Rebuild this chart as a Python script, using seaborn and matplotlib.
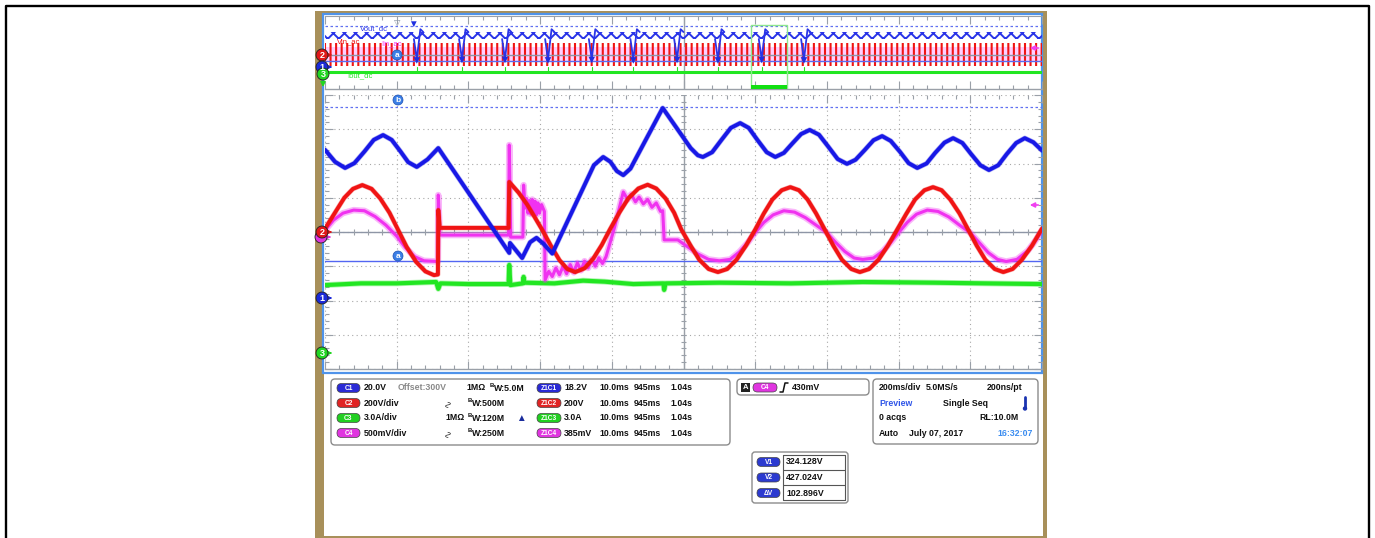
import matplotlib.pyplot as plt
import matplotlib.patches as mpatches
import numpy as np
import pandas as pd
import seaborn as sns

sns.set_style('white')
plt.rcParams['font.family'] = ['Liberation Sans', 'DejaVu Sans']

W, H = 1375, 538

# zoom window traces, (x, y) in graticule divisions (x 0..10, y -4..4)
c1_vout = [(0.00, 2.40), (0.14, 2.05), (0.28, 1.87), (0.41, 2.01), (0.55, 2.35), (0.68, 2.69),
           (0.81, 2.83), (0.93, 2.69), (1.05, 2.36), (1.16, 2.04), (1.28, 1.90), (1.43, 2.12),
           (1.58, 2.45), (2.57, -0.61), (2.58, -0.32), (2.75, -0.76), (2.86, -0.30), (2.95, -0.17),
           (3.05, -0.35), (3.17, -0.63), (3.75, 1.95), (3.88, 2.19), (3.98, 2.05), (4.07, 1.78),
           (4.16, 1.66), (4.26, 1.85), (4.71, 3.62), (5.10, 2.45), (5.20, 2.24), (5.27, 2.19),
           (5.40, 2.33), (5.53, 2.69), (5.66, 3.04), (5.79, 3.18), (5.91, 3.04), (6.03, 2.69),
           (6.16, 2.33), (6.28, 2.19), (6.40, 2.31), (6.52, 2.59), (6.64, 2.86), (6.76, 2.98),
           (6.89, 2.84), (7.02, 2.49), (7.15, 2.13), (7.28, 1.99), (7.40, 2.11), (7.53, 2.40),
           (7.65, 2.68), (7.77, 2.80), (7.89, 2.66), (8.02, 2.34), (8.14, 2.01), (8.26, 1.87),
           (8.39, 2.00), (8.51, 2.31), (8.64, 2.61), (8.76, 2.74), (8.89, 2.60), (9.01, 2.28),
           (9.14, 1.95), (9.26, 1.81), (9.39, 1.95), (9.51, 2.28), (9.64, 2.60), (9.76, 2.74),
           (9.88, 2.62), (10.0, 2.38)]

c2_vin = [(0.00, 0.10), (0.15, 0.60), (0.27, 1.00), (0.39, 1.26), (0.52, 1.37), (0.65, 1.26),
          (0.77, 0.98), (0.90, 0.56), (1.02, 0.06), (1.14, -0.44), (1.27, -0.87), (1.40, -1.15),
          (1.52, -1.26), (1.575, -1.24), (1.58, 0.64), (1.60, 0.12), (2.56, 0.12), (2.57, 1.46),
          (2.70, 1.15), (2.82, 0.80), (2.92, 0.45), (3.03, 0.06), (3.15, -0.40), (3.27, -0.82),
          (3.38, -1.08), (3.49, -1.17), (3.62, -1.06), (3.74, -0.78), (3.86, -0.38), (3.97, 0.06),
          (4.10, 0.55), (4.23, 0.98), (4.37, 1.27), (4.50, 1.38), (4.62, 1.27), (4.75, 0.98),
          (4.87, 0.56), (4.97, 0.07), (5.10, -0.40), (5.22, -0.81), (5.35, -1.08), (5.48, -1.17),
          (5.61, -1.08), (5.74, -0.81), (5.87, -0.40), (6.00, 0.07), (6.12, 0.54), (6.24, 0.95),
          (6.37, 1.22), (6.49, 1.31), (6.61, 1.22), (6.73, 0.95), (6.85, 0.54), (6.97, 0.07),
          (7.09, -0.40), (7.21, -0.81), (7.34, -1.08), (7.46, -1.17), (7.59, -1.08), (7.72, -0.81),
          (7.85, -0.40), (7.98, 0.07), (8.11, 0.54), (8.23, 0.95), (8.36, 1.22), (8.48, 1.31),
          (8.60, 1.22), (8.72, 0.95), (8.85, 0.54), (8.97, 0.07), (9.09, -0.40), (9.21, -0.81),
          (9.34, -1.08), (9.46, -1.17), (9.59, -1.08), (9.72, -0.81), (9.86, -0.40), (10.0, 0.10)]

c3_iout = [(0.00, -1.55), (0.50, -1.50), (1.00, -1.50), (1.55, -1.46), (1.58, -1.66), (1.61, -1.50),
           (2.00, -1.52), (2.56, -1.52), (2.57, -0.96), (2.585, -1.55), (2.76, -1.50), (2.77, -1.31),
           (2.78, -1.48), (3.20, -1.50), (3.60, -1.42), (3.90, -1.45), (4.30, -1.52), (4.72, -1.50),
           (4.73, -1.69), (4.75, -1.50), (5.50, -1.48), (6.50, -1.50), (7.50, -1.46), (8.50, -1.48),
           (9.20, -1.50), (10.0, -1.52)]

c4_iin = [(0.00, 0.05), (0.12, 0.35), (0.25, 0.55), (0.40, 0.64), (0.55, 0.62), (0.70, 0.45),
          (0.85, 0.20), (1.00, -0.12), (1.12, -0.45), (1.25, -0.72), (1.38, -0.84), (1.575, -0.86),
          (1.58, 1.08), (1.60, -0.09), (2.56, -0.09), (2.57, 2.54), (2.59, -0.15), (2.76, -0.15),
          (2.77, 1.37), (2.79, 0.70), (2.81, 0.98), (2.83, 0.55), (2.85, 0.92), (2.87, 0.52),
          (2.89, 0.95), (2.91, 0.55), (2.93, 0.90), (2.95, 0.50), (2.97, 0.85), (2.99, 0.55),
          (3.02, 0.80), (3.06, 0.60), (3.07, -1.40), (3.12, -1.15), (3.17, -1.30), (3.22, -1.05),
          (3.27, -1.25), (3.32, -1.00), (3.37, -1.22), (3.42, -0.95), (3.47, -1.18), (3.52, -0.90),
          (3.57, -1.12), (3.62, -0.85), (3.67, -1.05), (3.72, -0.80), (3.77, -1.00), (3.82, -0.75),
          (3.87, -0.92), (3.92, -0.72), (4.04, 0.15), (4.16, 1.17), (4.22, 0.95), (4.27, 1.10),
          (4.33, 0.88), (4.38, 1.02), (4.44, 0.82), (4.50, 0.95), (4.56, 0.72), (4.62, 0.85),
          (4.68, 0.60), (4.71, 0.62), (4.73, -0.23), (4.92, -0.23), (5.05, -0.42), (5.20, -0.64),
          (5.35, -0.80), (5.50, -0.84), (5.65, -0.80), (5.78, -0.58), (5.90, -0.30), (6.00, -0.02),
          (6.12, 0.28), (6.25, 0.50), (6.40, 0.62), (6.55, 0.58), (6.70, 0.42), (6.85, 0.20),
          (7.00, -0.02), (7.12, -0.30), (7.25, -0.57), (7.38, -0.76), (7.50, -0.80), (7.65, -0.76),
          (7.78, -0.56), (7.90, -0.28), (8.00, -0.02), (8.12, 0.28), (8.25, 0.52), (8.40, 0.64),
          (8.55, 0.60), (8.70, 0.44), (8.85, 0.20), (9.00, -0.02), (9.12, -0.30), (9.25, -0.60),
          (9.38, -0.80), (9.50, -0.86), (9.65, -0.80), (9.80, -0.55), (9.92, -0.22), (10.0, 0.05)]

cursor_a = -0.85
cursor_b = 3.65

# record overview strip, y in strip units (0 = bottom line)
strip_dips_x = [1.28, 1.91, 2.51, 3.11, 3.72, 4.30, 4.91, 5.48, 6.09, 6.68]
strip_dips_y = [3.15, 3.20, 3.20, 3.15, 3.20, 3.15, 3.20, 3.15, 3.20, 3.15]
strip_vout_band = (5.33, 6.08)
strip_vin_band = (2.45, 4.91)
strip_iin_band = (2.90, 4.45)
strip_iout = 1.81
strip_ref = 3.63
strip_cursor_a = 2.99
strip_cursor_b = 6.72
zoom_box = (5.94, 6.44)

# readouts
chan_names = ['C1', 'C2', 'C3', 'C4']
chan_colors = ['#2a2ad6', '#e02424', '#22cf22', '#e035e0']
chan_scales = ['20.0V', '200V/div', '3.0A/div', '500mV/div']
chan_bw = ['W:5.0M', 'W:500M', 'W:120M', 'W:250M']
zoom_names = ['Z1C1', 'Z1C2', 'Z1C3', 'Z1C4']
zoom_scales = ['18.2V', '200V', '3.0A', '385mV']
zoom_times = ['10.0ms', '945ms', '1.04s']
cursor_names = ['V1', 'V2', 'ΔV']
cursor_vals = ['324.128V', '427.024V', '102.896V']

BLUE, RED, GREEN, PINK = '#1818e6', '#f01414', '#22e622', '#f032f0'
GRID = '#9aa0a8'
FS = 6.3


def px_axes(fig, x0, y0, x1, y1):
    return fig.add_axes([x0 / W, 1 - y1 / H, (x1 - x0) / W, (y1 - y0) / H])


def trace(ax, pts, color, lw, halo=None, z=3):
    df = pd.DataFrame(pts, columns=['x', 'y'])
    if halo:
        sns.lineplot(data=df, x='x', y='y', sort=False, estimator=None, color=color,
                     linewidth=halo, alpha=0.35, ax=ax, zorder=z)
    sns.lineplot(data=df, x='x', y='y', sort=False, estimator=None, color=color,
                 linewidth=lw, ax=ax, zorder=z)


def band(ax, lims, color, hatch, hlw, z):
    plt.rcParams['hatch.linewidth'] = hlw
    ax.add_patch(mpatches.Rectangle((0, lims[0]), 10, lims[1] - lims[0], fill=False,
                                    ec=color, lw=0, hatch=hatch, zorder=z))


def pill(ax, x0, yc, w, label, color, h=9):
    ax.add_patch(mpatches.FancyBboxPatch((x0, yc - h / 2), w, h,
                                         boxstyle='round,pad=0,rounding_size=4.5',
                                         fc=color, ec='#444444', lw=0.5, zorder=5))
    ax.text(x0 + w / 2, yc + 0.3, label, color='white', fontsize=4.8, fontweight='bold',
            ha='center', va='center', zorder=6)


def chan_marker(ax, x, y, label, color, arrow=True):
    ax.add_patch(mpatches.Circle((x, y), 6, fc=color, ec='#202020', lw=0.6, zorder=8))
    ax.text(x, y + 0.4, label, color='white', fontsize=6.5, fontweight='bold',
            ha='center', va='center', zorder=9)
    if arrow:
        ax.annotate('', xy=(x + 13, y), xytext=(x + 5, y), zorder=7,
                    arrowprops=dict(arrowstyle='-|>', color=color, lw=1.2, mutation_scale=7))


def cursor_tag(ax, x, y, label):
    ax.add_patch(mpatches.Circle((x, y), 5, fc='#3b7fe6', ec='#1d4fb0', lw=0.5, zorder=8))
    ax.text(x, y + 0.3, label, color='white', fontsize=6, fontweight='bold',
            ha='center', va='center', zorder=9)


def txt(ax, x, y, s, color='#111111', fs=FS, bold=True, ha='left'):
    ax.text(x, y, s, color=color, fontsize=fs, fontweight='bold' if bold else 'normal',
            ha=ha, va='center')


fig = plt.figure(figsize=(W / 100, H / 100), dpi=100)

# page and scope bezel
bg = fig.add_axes([0, 0, 1, 1])
bg.set_xlim(0, W)
bg.set_ylim(H, 0)
bg.axis('off')
bg.plot([6, 6, 1369, 1369], [H, 6, 6, H], color='black', lw=1.7)
bg.add_patch(mpatches.Rectangle((315, 11), 732, 527, fc='#a8905a', ec='none'))
bg.add_patch(mpatches.Rectangle((324, 13), 719, 523, fc='white', ec='none'))
bg.add_patch(mpatches.Rectangle((323.5, 13.5), 719, 359, fc='none', ec='#4f93ea', lw=1.6))

# overview strip
st = px_axes(fig, 325, 16, 1042, 89)
st.set_facecolor('none')
st.add_patch(mpatches.Rectangle((0, strip_iin_band[0]), 10, strip_iin_band[1] - strip_iin_band[0],
                                fc='#ffb0ff', ec='none', alpha=0.6, zorder=2))
band(st, strip_vin_band, RED, '|||', 1.5, 3)
band(st, strip_vout_band, '#2a35e8', 'xxx', 1.4, 4)
st.axhline(strip_ref, color='#8e96a6', lw=1.0, zorder=3.5)
st.axhline(strip_cursor_a, color='#5b6cf2', lw=1.0, zorder=3.5)
st.axhline(strip_cursor_b, color='#6070f0', lw=0.9, ls=(0, (2, 2)), zorder=1)
st.axhline(strip_iout, color=GREEN, lw=2.2, zorder=3)
for dx, dy in zip(strip_dips_x, strip_dips_y):
    dip = [(dx - 0.04, strip_vout_band[0]), (dx, dy), (dx + 0.05, strip_vout_band[1] + 0.3),
           (dx + 0.09, strip_vout_band[1])]
    trace(st, dip, '#2a35e8', 1.3, z=5)
    trace(st, [(dx, strip_iout), (dx, strip_iout + 0.5)], GREEN, 0.8, z=3)
sns.scatterplot(x=strip_dips_x, y=[v - 0.1 for v in strip_dips_y], marker='v', s=22,
                color='#1f2fe0', edgecolor='none', ax=st, zorder=6)
st.add_patch(mpatches.Rectangle((zoom_box[0], 0), zoom_box[1] - zoom_box[0], 6.83,
                                fill=False, ec='#8ee68e', lw=1.0, zorder=6))
st.add_patch(mpatches.Rectangle((zoom_box[0], 0), zoom_box[1] - zoom_box[0], 0.4,
                                fc='#12e012', ec='none', zorder=6))
st.axvline(5, color=GRID, lw=1.0, zorder=1)
st.set_xlim(0, 10)
st.set_ylim(0, 7.79)

# main zoom window
ax = px_axes(fig, 325, 95, 1042, 369)
ax.set_facecolor('none')
ax.axhline(0, color='#8e96a6', lw=1.0, zorder=1.2)
ax.axvline(5, color=GRID, lw=1.0, zorder=1.2)
ax.vlines(np.arange(0, 10.01, 0.2), -0.08, 0.08, color=GRID, lw=0.8, zorder=1.2)
ax.hlines(np.arange(-4, 4.01, 0.2), 4.965, 5.035, color=GRID, lw=0.8, zorder=1.2)
ax.axhline(cursor_a, color='#5366f2', lw=1.0, zorder=1.5)
ax.axhline(cursor_b, color='#6070f0', lw=0.9, ls=(0, (2, 2)), zorder=1.5)
trace(ax, c3_iout, GREEN, 3.0, halo=4.2, z=2)
trace(ax, c4_iin, PINK, 2.2, halo=4.6, z=3)
trace(ax, c2_vin, RED, 2.8, halo=3.6, z=4)
trace(ax, c1_vout, BLUE, 2.8, halo=3.7, z=5)
ax.set_xlim(0, 10)
ax.set_ylim(-4, 4)

for a, yminor, ymajor in [(ax, np.arange(-4, 4.01, 0.2), range(-4, 5)),
                          (st, [], [])]:
    a.set_xticks(range(11))
    a.set_xticks(np.arange(0, 10.01, 0.2), minor=True)
    a.set_yticks(list(ymajor))
    a.set_yticks(list(yminor), minor=True)
    a.tick_params(which='both', direction='in', top=True, right=True, bottom=True, left=True,
                  labelbottom=False, labelleft=False, color=GRID, width=0.8)
    a.tick_params(which='major', length=6)
    a.tick_params(which='minor', length=3)
    a.set_xlabel('')
    a.set_ylabel('')
    for side in ['top', 'left', 'right']:
        a.spines[side].set_visible(False)
    a.spines['bottom'].set_color(GRID)
    a.spines['bottom'].set_linewidth(1.0)
ax.grid(True, which='major', color='#a8a8a8', linestyle=(0, (1, 3)), lw=0.8, zorder=0.5)
st.spines['top'].set_visible(True)
st.spines['top'].set_color(GRID)

# overlay: markers, labels and readouts in pixel space
ov = fig.add_axes([0, 0, 1, 1])
ov.set_xlim(0, W)
ov.set_ylim(H, 0)
ov.axis('off')

txt(ov, 360, 29, 'Vout_dc', '#2a35e8', 5.5, False)
txt(ov, 337, 42, 'Vin_ac', RED, 5.5, False)
txt(ov, 381, 44, 'Iin_ac', PINK, 5.5, False)
txt(ov, 347, 76, 'Iout_dc', GREEN, 5.5, False)
ov.text(397, 23, '▽', color='#8a96a6', fontsize=6, ha='center', va='center')
ov.text(413, 24, '▼', color='#1f2fe0', fontsize=7, ha='center', va='center')

chan_marker(ov, 322, 55, '2', '#e01818')
chan_marker(ov, 322, 67, '1', '#1c2ad8')
chan_marker(ov, 323, 74, '3', '#22d622', arrow=False)
ov.annotate('', xy=(323, 90), xytext=(323, 80),
            arrowprops=dict(arrowstyle='-|>', color='#22d622', lw=1.2, mutation_scale=7))
ov.add_patch(mpatches.Circle((321, 237), 6, fc='#e035e0', ec='#202020', lw=0.6, zorder=7))
ov.annotate('', xy=(334, 237), xytext=(326, 237),
            arrowprops=dict(arrowstyle='-|>', color='#e035e0', lw=1.2, mutation_scale=7))
chan_marker(ov, 322, 232, '2', '#e01818')
chan_marker(ov, 322, 298, '1', '#1c2ad8')
chan_marker(ov, 322, 353, '3', '#22d622')
for yy in [48, 205]:
    ov.annotate('', xy=(1027, yy), xytext=(1041, yy),
                arrowprops=dict(arrowstyle='-|>', color='#f040f0', lw=1.2, mutation_scale=7))
cursor_tag(ov, 397, 55, 'a')
cursor_tag(ov, 398, 100, 'b')
cursor_tag(ov, 398, 256, 'a')

# channel readout box
ov.add_patch(mpatches.FancyBboxPatch((331, 379), 399, 66, boxstyle='round,pad=0,rounding_size=4',
                                     fc='white', ec='#8c8c8c', lw=1.0))
rows = [388, 403, 418, 433]
for i, yy in enumerate(rows):
    pill(ov, 337, yy, 23, chan_names[i], chan_colors[i])
    txt(ov, 364, yy, chan_scales[i])
    bx = 490 if i == 0 else 468
    ov.text(bx, yy - 2.5, 'B', fontsize=4.3, fontweight='bold', color='#111111',
            ha='left', va='center')
    txt(ov, bx + 4, yy + 0.5, chan_bw[i])
    pill(ov, 537, yy, 24, zoom_names[i], chan_colors[i])
    txt(ov, 564, yy, zoom_scales[i])
    for xx, s in zip([599, 634, 670], zoom_times):
        txt(ov, xx, yy, s)
txt(ov, 398, rows[0], 'Offset:300V', '#8a8a8a')
txt(ov, 466, rows[0], '1MΩ')
txt(ov, 445, rows[2], '1MΩ')
for yy in [rows[1], rows[3]]:
    ov.text(448, yy, '∿', fontsize=7, rotation=90, ha='center', va='center', color='#333333')
ov.text(521, rows[2], '▲', fontsize=7, ha='center', va='center', color='#1a2c9c')

# trigger box
ov.add_patch(mpatches.FancyBboxPatch((737, 379), 132, 16, boxstyle='round,pad=0,rounding_size=4',
                                     fc='white', ec='#8c8c8c', lw=1.0))
ov.add_patch(mpatches.Rectangle((741, 383), 9, 9, fc='#222222', ec='none'))
ov.text(745.5, 387.8, 'A', color='white', fontsize=5.5, fontweight='bold', ha='center', va='center')
pill(ov, 753, 387.5, 24, 'C4', '#e035e0')
ov.plot([780, 783, 785, 788], [392, 392, 383, 383], color='#111111', lw=1.1)
txt(ov, 792, 387.5, '430mV')

# timebase box
ov.add_patch(mpatches.FancyBboxPatch((873, 379), 165, 65, boxstyle='round,pad=0,rounding_size=4',
                                     fc='white', ec='#8c8c8c', lw=1.0))
txt(ov, 879, rows[0], '200ms/div')
txt(ov, 926, rows[0], '5.0MS/s')
txt(ov, 987, rows[0], '200ns/pt')
txt(ov, 879, rows[1], 'Preview', '#2f55e8')
txt(ov, 943, rows[1], 'Single Seq')
txt(ov, 879, rows[2], '0 acqs')
txt(ov, 979, rows[2], 'RL:10.0M')
txt(ov, 879, rows[3], 'Auto')
txt(ov, 909, rows[3], 'July 07, 2017')
txt(ov, 1033, rows[3], '16:32:07', '#3a8cf0', ha='right')
ov.plot([1025, 1025], [397, 407], color='#1a33b0', lw=2.0)
ov.add_patch(mpatches.Circle((1025, 408.5), 2.2, fc='#1a33b0', ec='none'))

# cursor readout box
ov.add_patch(mpatches.FancyBboxPatch((752, 452), 96, 51, boxstyle='round,pad=0,rounding_size=3',
                                     fc='white', ec='#8c8c8c', lw=1.0))
ov.plot([783, 845, 845, 783, 783], [455, 455, 500, 500, 455], color='#555555', lw=0.8)
ov.plot([783, 845], [470, 470], color='#555555', lw=0.8)
ov.plot([783, 845], [485, 485], color='#555555', lw=0.8)
for yy, name, val in zip([462, 477.5, 493], cursor_names, cursor_vals):
    pill(ov, 757, yy, 23, name, '#2c3ad0')
    txt(ov, 786, yy, val)

fig.savefig('out.png', dpi=100)
